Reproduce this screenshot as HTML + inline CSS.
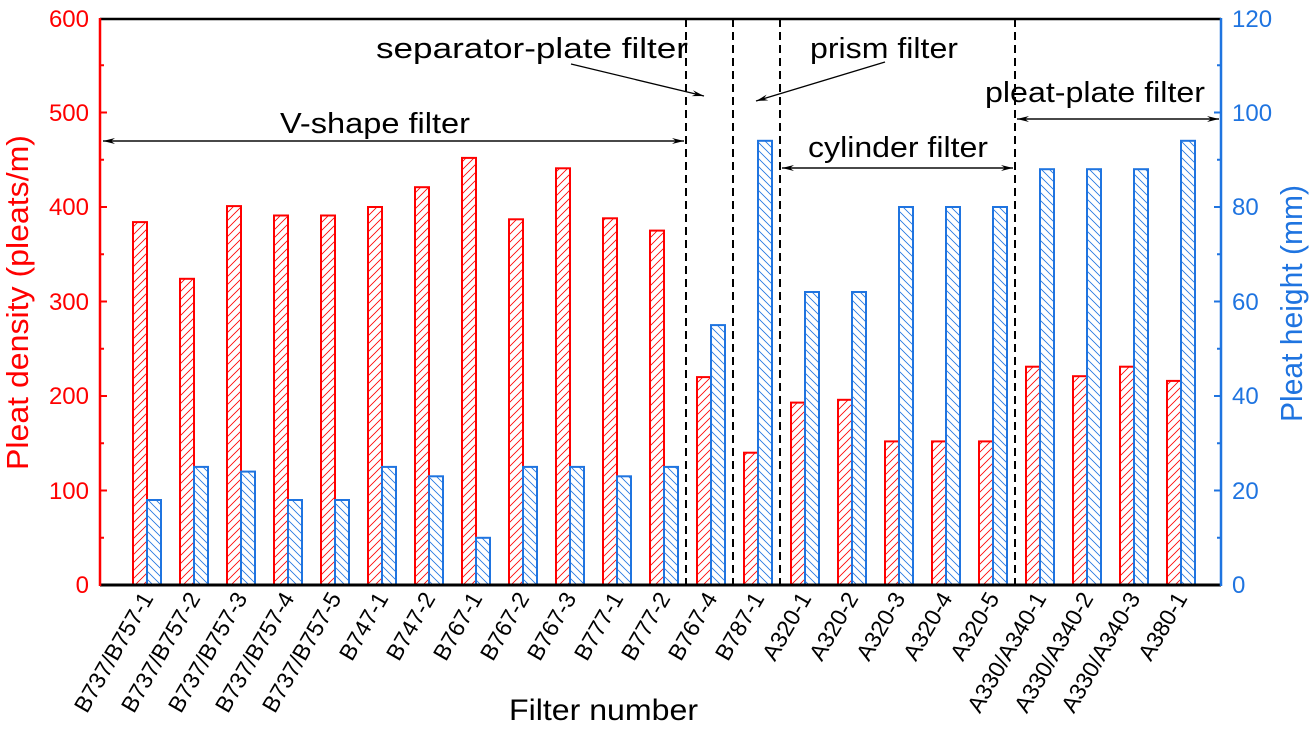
<!DOCTYPE html>
<html><head><meta charset="utf-8"><style>body{margin:0;background:#fff}svg{display:block}text{font-family:"Liberation Sans",Arial,sans-serif}</style></head><body>
<svg width="1312" height="734" viewBox="0 0 1312 734" xmlns="http://www.w3.org/2000/svg">
<defs>
<pattern id="pr" patternUnits="userSpaceOnUse" width="8" height="8"><path d="M-2,10 L10,-2 M-2,2 L2,-2 M6,10 L10,6" stroke="#ff0000" stroke-width="0.8"/></pattern>
<pattern id="pb" patternUnits="userSpaceOnUse" width="8" height="8"><path d="M-2,-2 L10,10 M-2,6 L2,10 M6,-2 L10,2" stroke="#1f74e0" stroke-width="0.8"/></pattern>
<marker id="ar" viewBox="0 0 12 8" refX="12" refY="4" markerWidth="12" markerHeight="8" orient="auto" markerUnits="userSpaceOnUse"><path d="M0,1 L12,4 L0,7 L4,4 Z" fill="#000"/></marker>
</defs>
<g fill="url(#pr)" stroke="#ff0000" stroke-width="2">
<rect x="133" y="222.1" width="14" height="362.9"/>
<rect x="180" y="278.8" width="14" height="306.2"/>
<rect x="227" y="206.1" width="14" height="378.9"/>
<rect x="274" y="215.5" width="14" height="369.5"/>
<rect x="321" y="215.5" width="14" height="369.5"/>
<rect x="368" y="207" width="14" height="378"/>
<rect x="415" y="187.2" width="14" height="397.8"/>
<rect x="462" y="157.9" width="14" height="427.1"/>
<rect x="509" y="219.3" width="14" height="365.7"/>
<rect x="556" y="168.3" width="14" height="416.7"/>
<rect x="603" y="218.3" width="14" height="366.7"/>
<rect x="650" y="230.6" width="14" height="354.4"/>
<rect x="697" y="377.1" width="14" height="207.9"/>
<rect x="744" y="452.7" width="14" height="132.3"/>
<rect x="791" y="402.6" width="14" height="182.4"/>
<rect x="838" y="399.8" width="14" height="185.2"/>
<rect x="885" y="441.4" width="14" height="143.6"/>
<rect x="932" y="441.4" width="14" height="143.6"/>
<rect x="979" y="441.4" width="14" height="143.6"/>
<rect x="1026" y="366.7" width="14" height="218.3"/>
<rect x="1073" y="376.2" width="14" height="208.8"/>
<rect x="1120" y="366.7" width="14" height="218.3"/>
<rect x="1167" y="380.9" width="14" height="204.1"/>
</g>
<g fill="url(#pb)" stroke="#1f74e0" stroke-width="2">
<rect x="147" y="500" width="14" height="85"/>
<rect x="194" y="466.9" width="14" height="118.1"/>
<rect x="241" y="471.6" width="14" height="113.4"/>
<rect x="288" y="500" width="14" height="85"/>
<rect x="335" y="500" width="14" height="85"/>
<rect x="382" y="466.9" width="14" height="118.1"/>
<rect x="429" y="476.3" width="14" height="108.7"/>
<rect x="476" y="537.8" width="14" height="47.2"/>
<rect x="523" y="466.9" width="14" height="118.1"/>
<rect x="570" y="466.9" width="14" height="118.1"/>
<rect x="617" y="476.3" width="14" height="108.7"/>
<rect x="664" y="466.9" width="14" height="118.1"/>
<rect x="711" y="325.1" width="14" height="259.9"/>
<rect x="758" y="140.8" width="14" height="444.2"/>
<rect x="805" y="292" width="14" height="293"/>
<rect x="852" y="292" width="14" height="293"/>
<rect x="899" y="207" width="14" height="378"/>
<rect x="946" y="207" width="14" height="378"/>
<rect x="993" y="207" width="14" height="378"/>
<rect x="1040" y="169.2" width="14" height="415.8"/>
<rect x="1087" y="169.2" width="14" height="415.8"/>
<rect x="1134" y="169.2" width="14" height="415.8"/>
<rect x="1181" y="140.8" width="14" height="444.2"/>
</g>
<!-- axes -->
<line x1="100" y1="19" x2="1221" y2="19" stroke="#000" stroke-width="2.5"/>
<line x1="100" y1="585" x2="1221" y2="585" stroke="#000" stroke-width="3"/>
<line x1="100" y1="18" x2="100" y2="586" stroke="#ff0000" stroke-width="2.5"/>
<line x1="1221" y1="18" x2="1221" y2="586" stroke="#1f74e0" stroke-width="2.5"/>
<g stroke="#ff0000" stroke-width="2">
<path d="M100,490.5h7M100,396h7M100,301.5h7M100,207h7M100,112.5h7M100,537.75h4M100,443.25h4M100,348.75h4M100,254.25h4M100,159.75h4M100,65.25h4"/>
</g>
<g stroke="#1f74e0" stroke-width="2">
<path d="M1221,490.5h-7M1221,396h-7M1221,301.5h-7M1221,207h-7M1221,112.5h-7M1221,537.75h-4M1221,443.25h-4M1221,348.75h-4M1221,254.25h-4M1221,159.75h-4M1221,65.25h-4"/>
</g>
<g font-size="24" fill="#ff0000" text-anchor="end">
<text x="89" y="593">0</text><text x="89" y="499">100</text><text x="89" y="404">200</text><text x="89" y="310">300</text><text x="89" y="215">400</text><text x="89" y="121">500</text><text x="89" y="27">600</text>
</g>
<g font-size="24" fill="#1f74e0">
<text x="1232" y="593">0</text><text x="1232" y="499">20</text><text x="1232" y="404">40</text><text x="1232" y="310">60</text><text x="1232" y="215">80</text><text x="1232" y="121">100</text><text x="1232" y="27">120</text>
</g>
<!-- dashed -->
<g stroke="#000" stroke-width="2" stroke-dasharray="8,5">
<line x1="686" y1="19" x2="686" y2="585"/><line x1="733" y1="19" x2="733" y2="585"/><line x1="780" y1="19" x2="780" y2="585"/><line x1="1015" y1="19" x2="1015" y2="585"/>
</g>
<g stroke="#000" stroke-width="1.3" fill="none">
<line x1="684" y1="141" x2="103" y2="141" marker-end="url(#ar)"/><line x1="103" y1="141" x2="684" y2="141" marker-end="url(#ar)"/>
<line x1="571" y1="64" x2="704" y2="96" marker-end="url(#ar)"/>
<line x1="885" y1="62" x2="756" y2="101" marker-end="url(#ar)"/>
<line x1="782" y1="168" x2="1013" y2="168" marker-end="url(#ar)"/><line x1="1013" y1="168" x2="782" y2="168" marker-end="url(#ar)"/>
<line x1="1017" y1="119" x2="1219" y2="119" marker-end="url(#ar)"/><line x1="1219" y1="119" x2="1017" y2="119" marker-end="url(#ar)"/>
</g>
<g font-size="29" fill="#000">
<text x="280" y="133" textLength="190" lengthAdjust="spacingAndGlyphs">V-shape filter</text>
<text x="376" y="58" textLength="312" lengthAdjust="spacingAndGlyphs">separator-plate filter</text>
<text x="810" y="58" textLength="148" lengthAdjust="spacingAndGlyphs">prism filter</text>
<text x="808" y="157" textLength="180" lengthAdjust="spacingAndGlyphs">cylinder filter</text>
<text x="985" y="102" textLength="220" lengthAdjust="spacingAndGlyphs">pleat-plate filter</text>
</g>
<text x="509" y="720" font-size="30" textLength="189" lengthAdjust="spacingAndGlyphs">Filter number</text>
<text transform="translate(28,470) rotate(-90)" font-size="31" fill="#ff0000" textLength="335" lengthAdjust="spacingAndGlyphs">Pleat density (pleats/m)</text>
<text transform="translate(1302,422) rotate(-90)" font-size="31" fill="#1f74e0" textLength="237" lengthAdjust="spacingAndGlyphs">Pleat height (mm)</text>
<g font-size="23" text-anchor="end" fill="#000">
<text transform="translate(154,598) rotate(-60)">B737/B757-1</text>
<text transform="translate(201,598) rotate(-60)">B737/B757-2</text>
<text transform="translate(248,598) rotate(-60)">B737/B757-3</text>
<text transform="translate(295,598) rotate(-60)">B737/B757-4</text>
<text transform="translate(342,598) rotate(-60)">B737/B757-5</text>
<text transform="translate(389,598) rotate(-60)">B747-1</text>
<text transform="translate(436,598) rotate(-60)">B747-2</text>
<text transform="translate(483,598) rotate(-60)">B767-1</text>
<text transform="translate(530,598) rotate(-60)">B767-2</text>
<text transform="translate(577,598) rotate(-60)">B767-3</text>
<text transform="translate(624,598) rotate(-60)">B777-1</text>
<text transform="translate(671,598) rotate(-60)">B777-2</text>
<text transform="translate(718,598) rotate(-60)">B767-4</text>
<text transform="translate(765,598) rotate(-60)">B787-1</text>
<text transform="translate(812,598) rotate(-60)">A320-1</text>
<text transform="translate(859,598) rotate(-60)">A320-2</text>
<text transform="translate(906,598) rotate(-60)">A320-3</text>
<text transform="translate(953,598) rotate(-60)">A320-4</text>
<text transform="translate(1000,598) rotate(-60)">A320-5</text>
<text transform="translate(1047,598) rotate(-60)">A330/A340-1</text>
<text transform="translate(1094,598) rotate(-60)">A330/A340-2</text>
<text transform="translate(1141,598) rotate(-60)">A330/A340-3</text>
<text transform="translate(1188,598) rotate(-60)">A380-1</text>
</g>
</svg>
</body></html>
